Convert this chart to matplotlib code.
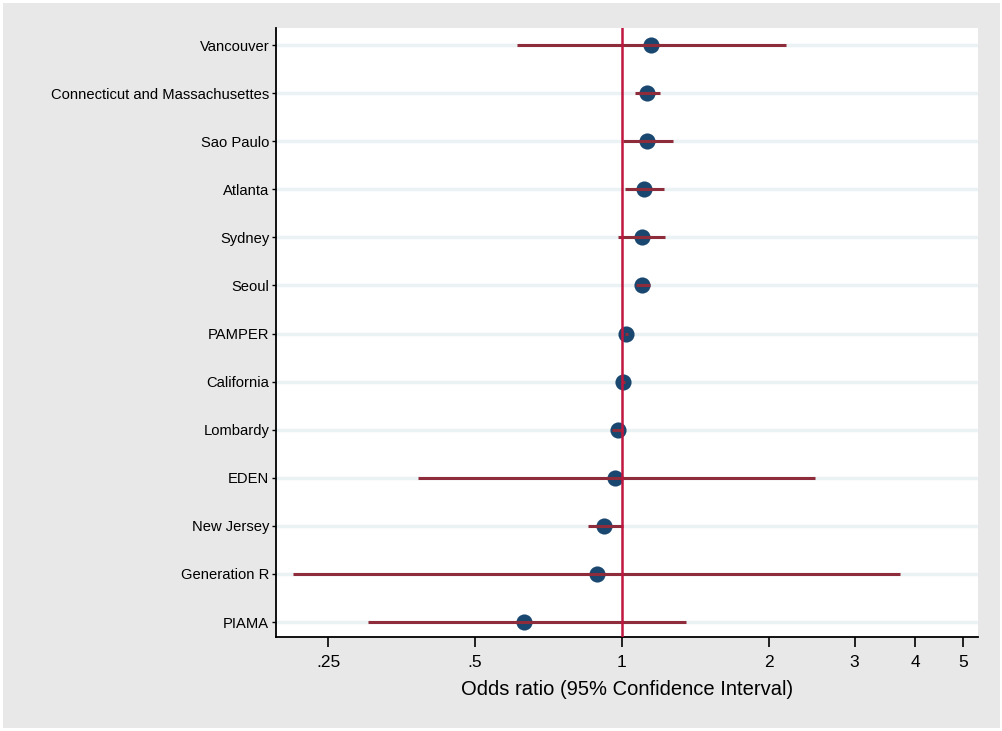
import numpy as np
import matplotlib
matplotlib.use("Agg")
import matplotlib.pyplot as plt

plt.rcParams["font.family"] = ["Liberation Sans", "DejaVu Sans"]

# study estimates (top to bottom)
studies = [
    "Vancouver", "Connecticut and Massachusettes", "Sao Paulo", "Atlanta",
    "Sydney", "Seoul", "PAMPER", "California", "Lombardy", "EDEN",
    "New Jersey", "Generation R", "PIAMA",
]
odds = [1.148, 1.129, 1.129, 1.112, 1.100, 1.100, 1.022, 1.008, 0.981, 0.970, 0.921, 0.889, 0.631]
ci_lo = [0.610, 1.065, 1.004, 1.013, 0.983, 1.070, 1.015, 1.003, 0.955, 0.382, 0.854, 0.212, 0.302]
ci_hi = [2.170, 1.200, 1.272, 1.218, 1.228, 1.140, 1.030, 1.013, 1.008, 2.490, 1.008, 3.710, 1.351]

xticks = [0.25, 0.5, 1, 2, 3, 4, 5]
xticklabels = [".25", ".5", "1", "2", "3", "4", "5"]

navy = "#1a476f"
maroon = "#8e2c3c"
crimson = "#c0163f"
grid_c = "#eaf2f3"

fig = plt.figure(figsize=(10.03, 7.31), dpi=100, facecolor="#e8e8e8",
                 edgecolor="white", linewidth=4)

ax = fig.add_axes([0.2747, 0.1286, 0.7006, 0.8331])
ax.set_facecolor("white")

n = len(studies)
ypos = np.arange(n, 0, -1)

for y in ypos:
    ax.axhline(y, color=grid_c, lw=2.5, zorder=1)

ax.scatter(odds, ypos, s=135, color=navy, zorder=3, linewidths=0)
ax.hlines(ypos, ci_lo, ci_hi, color=maroon, lw=2.2, zorder=4)
ax.axvline(1, color=crimson, lw=1.8, zorder=5)

ax.set_xscale("log")
ax.set_xlim(0.195, 5.38)
ax.set_ylim(1 - 0.31, n + 0.354)
ax.set_xticks(xticks)
ax.set_xticklabels(xticklabels, fontsize=12.5)
ax.minorticks_off()
ax.set_yticks(ypos)
ax.set_yticklabels(studies, fontsize=10.6)

ax.tick_params(axis="x", direction="out", length=7, width=1.2, pad=6)
ax.tick_params(axis="y", direction="out", length=3, width=1, pad=1.5)

ax.set_xlabel("Odds ratio (95% Confidence Interval)", fontsize=14.5, labelpad=7)

for side in ["top", "right"]:
    ax.spines[side].set_visible(False)
for side in ["left", "bottom"]:
    ax.spines[side].set_linewidth(1.3)
    ax.spines[side].set_color("black")

fig.savefig("out.png", dpi=100)
